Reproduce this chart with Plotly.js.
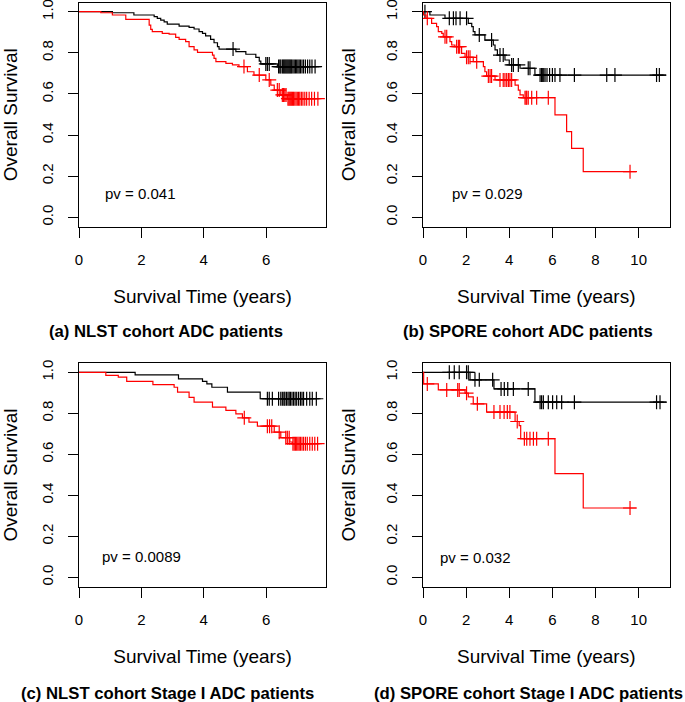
<!DOCTYPE html>
<html>
<head>
<meta charset="utf-8">
<script src="https://cdn.plot.ly/plotly-3.0.1.min.js"></script>
<style>html,body{margin:0;padding:0;background:#fff;}#chart{width:685px;height:702px;}</style>
</head>
<body>
<div id="chart"></div>
<script>
// ---------- data (years, survival probability) ----------
const xTicksNLST = [0, 2, 4, 6];
const xTicksSPORE = [0, 2, 4, 6, 8, 10];
const yTicks = [0, 0.2, 0.4, 0.6, 0.8, 1.0];
const yTickText = ["0.0", "0.2", "0.4", "0.6", "0.8", "1.0"];

// (a) NLST cohort ADC
const aBlackTime = [1.07, 1.76, 2.41, 2.51, 2.62, 2.73, 2.83, 3.21, 3.53, 3.69, 3.85, 3.96, 4.06, 4.22, 4.33, 4.44, 4.49, 5.03, 5.35, 5.67, 5.78, 5.83, 6.36, 7.75];
const aBlackSurv = [0.995, 0.984, 0.976, 0.968, 0.959, 0.951, 0.940, 0.930, 0.924, 0.916, 0.903, 0.895, 0.882, 0.865, 0.849, 0.830, 0.818, 0.806, 0.793, 0.778, 0.760, 0.746, 0.733, 0.733];
const aBlackCens = [4.94, 5.99, 6.04, 6.10, 6.40, 6.44, 6.47, 6.52, 6.55, 6.58, 6.61, 6.64, 6.67, 6.70, 6.73, 6.76, 6.79, 6.82, 6.86, 6.90, 6.94, 6.98, 7.02, 7.06, 7.10, 7.15, 7.20, 7.26, 7.33, 7.40, 7.47, 7.57];
const aRedTime = [0.70, 1.07, 1.50, 2.25, 2.30, 2.35, 2.67, 2.89, 3.10, 3.21, 3.42, 3.53, 3.69, 3.80, 4.28, 4.33, 4.39, 4.71, 4.92, 5.13, 5.40, 5.61, 5.99, 6.15, 6.26, 6.47, 6.68, 7.72];
const aRedSurv = [0.995, 0.984, 0.963, 0.935, 0.914, 0.903, 0.895, 0.891, 0.875, 0.865, 0.854, 0.830, 0.814, 0.802, 0.789, 0.773, 0.757, 0.749, 0.741, 0.733, 0.708, 0.692, 0.668, 0.643, 0.619, 0.595, 0.577, 0.577];
const aRedCens = [5.29, 5.78, 6.10, 6.36, 6.42, 6.52, 6.56, 6.60, 6.64, 6.70, 6.73, 6.76, 6.79, 6.82, 6.85, 6.88, 6.92, 6.96, 7.00, 7.04, 7.08, 7.13, 7.18, 7.24, 7.30, 7.38, 7.46, 7.55, 7.66];

// (b) SPORE cohort ADC
const bBlackTime = [0.32, 1.02, 2.10, 2.26, 2.33, 2.41, 2.87, 3.26, 3.34, 3.45, 3.80, 4.00, 4.50, 5.19, 11.27];
const bBlackSurv = [0.984, 0.968, 0.943, 0.927, 0.903, 0.887, 0.862, 0.838, 0.814, 0.789, 0.765, 0.741, 0.725, 0.692, 0.692];
const bBlackCens = [0.09, 1.22, 1.41, 1.53, 1.72, 2.02, 2.61, 3.18, 3.57, 3.72, 4.11, 4.19, 4.42, 4.88, 4.96, 5.43, 5.50, 5.55, 5.60, 5.66, 5.75, 5.87, 6.00, 6.12, 6.35, 7.02, 8.52, 8.90, 10.83, 10.96];
const bRedTime = [0.02, 0.14, 0.40, 0.63, 0.71, 0.87, 0.94, 1.25, 1.33, 1.48, 1.79, 1.95, 2.33, 2.80, 2.87, 2.95, 3.34, 4.27, 4.42, 4.50, 4.65, 6.12, 6.66, 6.89, 7.43, 9.88];
const bRedSurv = [0.984, 0.968, 0.943, 0.927, 0.903, 0.895, 0.878, 0.854, 0.838, 0.830, 0.797, 0.778, 0.757, 0.733, 0.708, 0.687, 0.668, 0.643, 0.619, 0.595, 0.582, 0.498, 0.417, 0.335, 0.222, 0.222];
const bRedCens = [0.20, 1.02, 1.10, 1.56, 1.64, 1.70, 2.02, 2.10, 2.18, 2.49, 3.03, 3.11, 3.18, 3.57, 3.72, 3.80, 3.88, 3.96, 4.03, 4.11, 4.73, 4.78, 4.81, 4.88, 5.04, 5.27, 5.81, 9.60];

// (c) NLST cohort Stage I ADC
const cBlackTime = [1.80, 3.19, 3.96, 4.10, 4.26, 4.76, 5.81, 7.75];
const cBlackSurv = [0.987, 0.968, 0.956, 0.943, 0.927, 0.903, 0.871, 0.871];
const cBlackCens = [6.04, 6.10, 6.20, 6.40, 6.47, 6.52, 6.57, 6.60, 6.65, 6.70, 6.74, 6.78, 6.83, 6.88, 6.93, 6.98, 7.04, 7.10, 7.15, 7.20, 7.30, 7.40, 7.48, 7.61];
const cRedTime = [0.86, 1.26, 1.53, 2.37, 3.05, 3.16, 3.53, 3.69, 4.28, 4.71, 5.03, 5.24, 5.45, 5.72, 6.26, 6.47, 6.76, 6.84, 7.72];
const cRedSurv = [0.985, 0.976, 0.956, 0.940, 0.927, 0.903, 0.878, 0.854, 0.830, 0.814, 0.797, 0.778, 0.757, 0.737, 0.708, 0.681, 0.660, 0.652, 0.652];
const cRedCens = [5.30, 6.04, 6.11, 6.18, 6.42, 6.63, 6.68, 6.74, 6.86, 6.90, 6.94, 6.98, 7.02, 7.06, 7.10, 7.15, 7.20, 7.26, 7.32, 7.40, 7.48, 7.56, 7.65];

// (d) SPORE cohort Stage I ADC
const dBlackTime = [2.18, 3.29, 5.19, 11.27];
const dBlackSurv = [0.963, 0.919, 0.854, 0.854];
const dBlackCens = [1.22, 1.45, 1.68, 2.02, 2.10, 2.41, 2.61, 3.23, 3.62, 3.77, 3.93, 4.19, 4.88, 5.43, 5.50, 5.58, 5.81, 6.01, 6.20, 6.43, 7.02, 10.83, 10.99];
const dRedTime = [0.03, 0.71, 1.95, 2.10, 2.33, 2.95, 4.27, 4.46, 4.53, 6.12, 7.43, 9.88];
const dRedSurv = [0.943, 0.914, 0.898, 0.880, 0.846, 0.806, 0.760, 0.740, 0.676, 0.506, 0.338, 0.338];
const dRedCens = [0.20, 1.10, 1.61, 1.68, 2.02, 2.52, 3.29, 3.57, 3.76, 3.91, 4.03, 4.37, 4.70, 4.81, 4.96, 5.12, 5.27, 5.81, 9.60];

const pValues = ["pv = 0.041", "pv = 0.029", "pv = 0.0089", "pv = 0.032"];
const captions = ["(a) NLST cohort ADC patients", "(b) SPORE cohort ADC patients",
                  "(c) NLST cohort Stage I ADC patients", "(d) SPORE cohort Stage I ADC patients"];

// ---------- build ----------
const FONT = "Liberation Sans, Arial, Helvetica, sans-serif";
function survAt(times, survs, t) {
  let s = 1;
  for (let i = 0; i < times.length; i++) { if (times[i] <= t) s = survs[i]; else break; }
  return s;
}
function kmTraces(times, survs, cens, color, xa, ya) {
  return [
    {x: [0].concat(times), y: [1].concat(survs), type: 'scatter', mode: 'lines',
     line: {shape: 'hv', color: color, width: 1.2}, xaxis: xa, yaxis: ya, hoverinfo: 'skip', showlegend: false},
    {x: cens, y: cens.map(t => survAt(times, survs, t)), type: 'scatter', mode: 'markers',
     marker: {symbol: 'cross-thin', size: 10, line: {color: color, width: 1.2}, color: color},
     xaxis: xa, yaxis: ya, hoverinfo: 'skip', showlegend: false}
  ];
}
const BLACK = '#000000', RED = '#FF0000';
const data = [].concat(
  kmTraces(aBlackTime, aBlackSurv, aBlackCens, BLACK, 'x', 'y'),
  kmTraces(aRedTime, aRedSurv, aRedCens, RED, 'x', 'y'),
  kmTraces(bBlackTime, bBlackSurv, bBlackCens, BLACK, 'x2', 'y2'),
  kmTraces(bRedTime, bRedSurv, bRedCens, RED, 'x2', 'y2'),
  kmTraces(cBlackTime, cBlackSurv, cBlackCens, BLACK, 'x3', 'y3'),
  kmTraces(cRedTime, cRedSurv, cRedCens, RED, 'x3', 'y3'),
  kmTraces(dBlackTime, dBlackSurv, dBlackCens, BLACK, 'x4', 'y4'),
  kmTraces(dRedTime, dRedSurv, dRedCens, RED, 'x4', 'y4')
);

const W = 685, H = 702;
const xDomL = [79 / W, 326 / W], xDomR = [423 / W, 669.5 / W];
const yDomT = [1 - 226.7 / H, 1 - 2.7 / H], yDomB = [1 - 586.7 / H, 1 - 363.3 / H];
const yRange = [-0.0457, 1.0438];

function xAxis(domain, range, ticks, anchor) {
  return {domain: domain, range: range, tickvals: ticks, ticktext: ticks.map(String), anchor: anchor,
    ticks: 'outside', ticklen: 10, tickwidth: 1, tickcolor: '#000', ticklabelstandoff: 9,
    showline: true, mirror: true, linecolor: '#000', linewidth: 1,
    showgrid: false, zeroline: false, fixedrange: true, ticklabeloverflow: 'allow',
    tickfont: {family: FONT, size: 15, color: '#000'},
    title: {text: 'Survival Time (years)', font: {family: FONT, size: 19, color: '#000'}, standoff: 22}};
}
function yAxis(domain, anchor) {
  return {domain: domain, range: yRange, tickvals: yTicks, ticktext: yTickText, anchor: anchor,
    ticks: 'outside', ticklen: 10, tickwidth: 1, tickcolor: '#000', tickangle: -90, ticklabelstandoff: 9,
    showline: true, mirror: true, linecolor: '#000', linewidth: 1,
    showgrid: false, zeroline: false, fixedrange: true, ticklabeloverflow: 'allow',
    tickfont: {family: FONT, size: 15, color: '#000'},
    title: {text: 'Overall Survival', font: {family: FONT, size: 19, color: '#000'}, standoff: 22}};
}

const pvPos = [[0.77, 0.118, 'x', 'y'], [1.25, 0.118, 'x2', 'y2'], [0.67, 0.10, 'x3', 'y3'], [0.71, 0.095, 'x4', 'y4']];
const annotations = pvPos.map((p, i) => ({
  x: p[0], y: p[1], xref: p[2], yref: p[3], text: pValues[i], showarrow: false,
  xanchor: 'left', yanchor: 'middle', font: {family: FONT, size: 15, color: '#000'}
}));
const capPos = [[166, 332], [528, 332], [167, 693], [528, 693]];
capPos.forEach((p, i) => annotations.push({
  x: p[0] / W, y: 1 - p[1] / H, xref: 'paper', yref: 'paper', text: '<b>' + captions[i] + '</b>',
  showarrow: false, xanchor: 'center', yanchor: 'middle', font: {family: FONT, size: 16.7, color: '#000'}
}));

const layout = {
  width: W, height: H, margin: {l: 0, r: 0, t: 0, b: 0},
  paper_bgcolor: '#fff', plot_bgcolor: '#fff', showlegend: false,
  xaxis: xAxis(xDomL, [0, 7.92], xTicksNLST, 'y'),
  yaxis: yAxis(yDomT, 'x'),
  xaxis2: xAxis(xDomR, [0, 11.43], xTicksSPORE, 'y2'),
  yaxis2: yAxis(yDomT, 'x2'),
  xaxis3: xAxis(xDomL, [0, 7.92], xTicksNLST, 'y3'),
  yaxis3: yAxis(yDomB, 'x3'),
  xaxis4: xAxis(xDomR, [0, 11.43], xTicksSPORE, 'y4'),
  yaxis4: yAxis(yDomB, 'x4'),
  annotations: annotations
};
Plotly.newPlot('chart', data, layout, {staticPlot: true, displayModeBar: false});
</script>
</body>
</html>
